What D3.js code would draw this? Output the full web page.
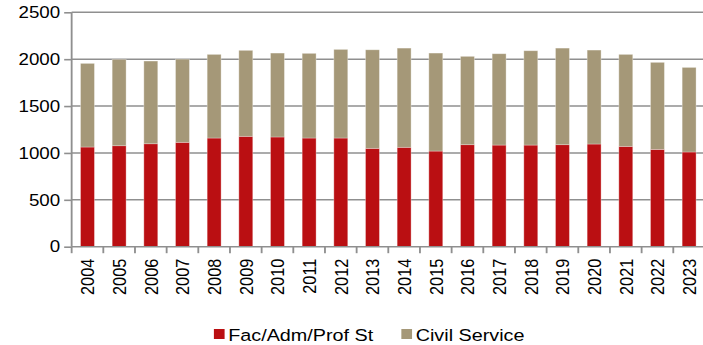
<!DOCTYPE html>
<html>
<head>
<meta charset="utf-8">
<script src="https://cdn.jsdelivr.net/npm/d3@7"></script>
<style>
  html, body { margin: 0; padding: 0; background: #fff; }
  svg { display: block; }
  text { font-family: "Liberation Sans", Arial, sans-serif; fill: #000; }
</style>
</head>
<body>
<svg id="chart"></svg>
<script>
// Staff headcount by year, split into two groups (stacked)
const years = ["2004","2005","2006","2007","2008","2009","2010","2011","2012","2013",
               "2014","2015","2016","2017","2018","2019","2020","2021","2022","2023"];
const facAdmProf = [1063,1077,1098,1113,1159,1177,1170,1159,1159,1049,
                    1060,1020,1088,1084,1084,1088,1095,1070,1038,1010];
const civilService = [892,921,882,887,892,917,895,903,945,1051,
                      1058,1045,942,974,1006,1030,1002,981,928,902];
const yTicks = [0,500,1000,1500,2000,2500];
const seriesNames = ["Fac/Adm/Prof St", "Civil Service"];
const seriesColors = ["#BA0F12", "#A59878"];

// The drawing is laid out in a slightly narrower coordinate space and
// stretched horizontally to fill the window.
const pxW = 703, pxH = 345, stretch = 1.15;
const W = pxW / stretch, H = pxH;

const svg = d3.select("#chart")
  .attr("width", pxW).attr("height", pxH)
  .attr("viewBox", `0 0 ${W} ${H}`)
  .attr("preserveAspectRatio", "none");

const plot = { left: 62.3, right: 613, top: 12.3, bottom: 246.7 };

const x = d3.scaleBand().domain(years)
  .range([plot.left, plot.right])
  .paddingInner(0.56).paddingOuter(0.28);
const y = d3.scaleLinear().domain([0, 2500]).range([plot.bottom, plot.top]);

const gridColor = "#8f8f8f";

// horizontal gridlines
svg.append("g").selectAll("line").data(yTicks.filter(d => d > 0)).join("line")
  .attr("x1", plot.left).attr("x2", W)
  .attr("y1", d => y(d)).attr("y2", d => y(d))
  .attr("stroke", gridColor).attr("stroke-width", 1.6);

// stacked bars
const rows = years.map((yr, i) => ({ year: yr, fac: facAdmProf[i], civ: civilService[i] }));
const stack = d3.stack().keys(["fac", "civ"])(rows);
svg.append("g").selectAll("g").data(stack).join("g")
  .attr("fill", (d, i) => seriesColors[i])
  .selectAll("rect").data(d => d).join("rect")
  .attr("x", d => x(d.data.year))
  .attr("width", x.bandwidth())
  .attr("y", d => y(d[1]))
  .attr("height", d => y(d[0]) - y(d[1]))
  .attr("stroke", "#ffffff").attr("stroke-opacity", 0.35).attr("stroke-width", 0.8);

// y axis
const yAxis = svg.append("g")
  .attr("transform", `translate(${plot.left},0)`)
  .call(d3.axisLeft(y).tickValues(yTicks).tickSize(6.5).tickPadding(3.5).tickFormat(d3.format("d")));
yAxis.select(".domain").attr("stroke", gridColor).attr("stroke-width", 1.6)
  .attr("d", `M0,${plot.top}V${plot.bottom}`);
yAxis.selectAll(".tick line").attr("stroke", gridColor).attr("stroke-width", 1.6);
yAxis.selectAll(".tick text").style("font-size", "16.3px").attr("fill", "#000");

// x axis with ticks at category boundaries
const xg = svg.append("g").attr("transform", `translate(0,${plot.bottom})`);
xg.append("line").attr("x1", plot.left).attr("x2", W)
  .attr("stroke", gridColor).attr("stroke-width", 1.6);
const step = x.step();
const bounds = years.map((d, i) => x(d) - x.paddingInner() * step / 2 + (i === 0 ? 0 : 0));
xg.selectAll("line.tk").data(years).join("line").attr("class", "tk")
  .attr("x1", d => x(d) - (step - x.bandwidth()) / 2)
  .attr("x2", d => x(d) - (step - x.bandwidth()) / 2)
  .attr("y1", 0).attr("y2", 6.5)
  .attr("stroke", gridColor).attr("stroke-width", 1.6);
xg.selectAll("text").data(years).join("text")
  .attr("transform", d => `translate(${x(d) + x.bandwidth() / 2},12) rotate(-90)`)
  .attr("text-anchor", "end").attr("dy", "0.36em")
  .style("font-size", "16.3px").text(d => d);

// legend
const legend = svg.append("g").attr("transform", "translate(0,0)");
const legendX = [186, 349];
seriesNames.forEach((name, i) => {
  legend.append("rect").attr("x", legendX[i]).attr("y", 329)
    .attr("width", 9.3).attr("height", 10).attr("fill", seriesColors[i]);
  legend.append("text").attr("x", legendX[i] + 12.5).attr("y", 341)
    .style("font-size", "17.2px").text(name);
});
</script>
</body>
</html>
